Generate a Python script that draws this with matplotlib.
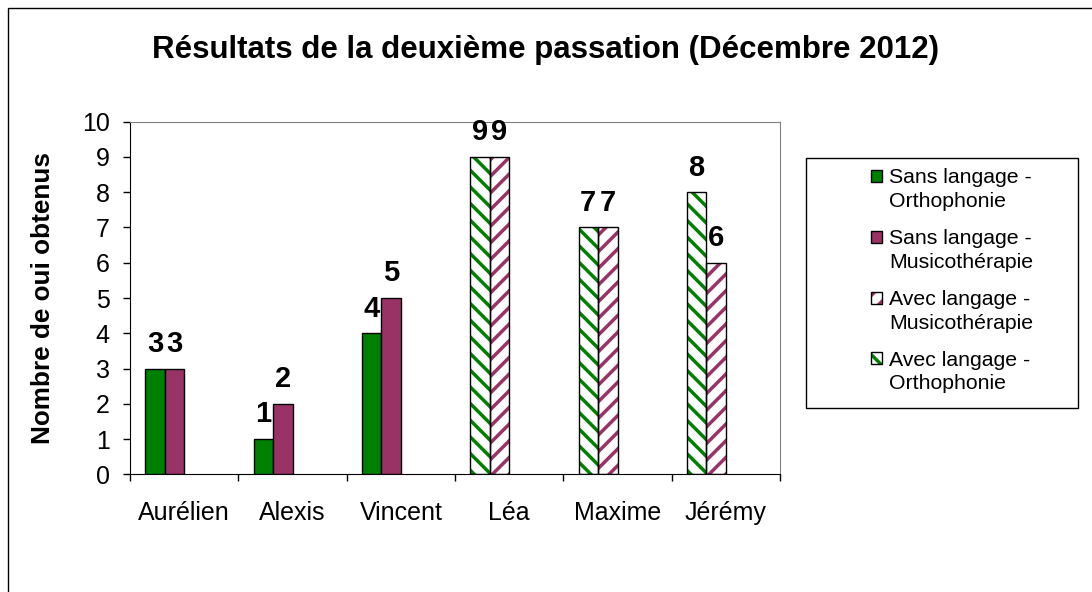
import numpy as np
import matplotlib
matplotlib.use("Agg")
import matplotlib.pyplot as plt
from matplotlib.patches import Rectangle, Patch
from matplotlib.legend_handler import HandlerBase

names = ["Aurélien", "Alexis", "Vincent", "Léa", "Maxime", "Jérémy"]
sans_ortho = [3, 1, 4, None, None, None]
sans_musico = [3, 2, 5, None, None, None]
avec_musico = [None, None, None, 9, 7, 6]
avec_ortho = [None, None, None, 9, 7, 8]

GREEN = "#008000"
PURPLE = "#993366"
W = 0.18

plt.rcParams["font.family"] = ["Liberation Sans", "DejaVu Sans"]
plt.rcParams["hatch.linewidth"] = 2.5


def split(values, offset):
    x = np.arange(len(values)) + 0.5 + offset
    keep = [v is not None for v in values]
    return x[keep], np.array([v for v in values if v is not None], dtype=float)


def draw_series(ax, values, offset, color, hatch=None):
    x, h = split(values, offset)
    if hatch:
        ax.bar(x, h, W, facecolor="white", edgecolor=color, hatch=hatch, linewidth=0, zorder=2)
        ax.bar(x, h, W, fill=False, edgecolor="black", linewidth=1, zorder=3)
    else:
        ax.bar(x, h, W, facecolor=color, edgecolor="black", linewidth=1, zorder=3)
    for xi, hi in zip(x, h):
        ax.annotate(f"{hi:g}", (xi, hi), xytext=(0, 12), textcoords="offset points",
                    ha="center", va="baseline", fontsize=21, fontweight="bold",
                    annotation_clip=False, zorder=5)


class KeyHandler(HandlerBase):
    # square key aligned with the first line of a two line label
    def __init__(self, color, hatch=None):
        super().__init__()
        self.color = color
        self.hatch = hatch

    def create_artists(self, legend, orig_handle, xdescent, ydescent, width, height, fontsize, trans):
        s = 8.6
        x0 = -xdescent + (width - s) / 2
        y0 = -ydescent + 0.63 * fontsize + 0.36 * fontsize - s / 2
        if self.hatch:
            fill = Rectangle((x0, y0), s, s, facecolor="white", edgecolor=self.color,
                             hatch=self.hatch, linewidth=0, transform=trans)
        else:
            fill = Rectangle((x0, y0), s, s, facecolor=self.color, linewidth=0, transform=trans)
        edge = Rectangle((x0, y0), s, s, fill=False, edgecolor="black", linewidth=1, transform=trans)
        return [fill, edge]


fig = plt.figure(figsize=(10.92, 5.92), dpi=100)
ax = fig.add_axes([130 / 1092, 1 - 474.3 / 592, 650 / 1092, 352.6 / 592])

draw_series(ax, sans_ortho, -1.5 * W, GREEN)
draw_series(ax, sans_musico, -0.5 * W, PURPLE)
draw_series(ax, avec_ortho, -1.5 * W, GREEN, "\\\\")
draw_series(ax, avec_musico, -0.5 * W, PURPLE, "//")

ax.set_xlim(0, len(names))
ax.set_ylim(0, 10)
ax.set_yticks(range(0, 11))
ax.set_xticks(range(0, len(names) + 1))
ax.set_xticklabels([])
ax.set_xticks(np.arange(len(names)) + 0.5, minor=True)
ax.set_xticklabels(names, minor=True)
ax.tick_params(axis="both", which="major", direction="out", length=5, width=1, labelsize=18)
ax.tick_params(axis="y", pad=9.5)
ax.tick_params(axis="x", which="minor", length=0, pad=19, labelsize=18)
for side in ["top", "right"]:
    ax.spines[side].set_color("#808080")
for side in ["left", "bottom"]:
    ax.spines[side].set_color("black")

fig.text(545 / 1092, 1 - 58 / 592, "Résultats de la deuxième passation (Décembre 2012)",
         ha="center", va="baseline", fontsize=22.5, fontweight="bold")
fig.text(43 / 1092, 1 - 298 / 592, "Nombre de oui obtenus", rotation=90,
         ha="center", va="center", fontsize=18.8, fontweight="bold")

keys = [
    ("Sans langage -\nOrthophonie", GREEN, None),
    ("Sans langage -\nMusicothérapie", PURPLE, None),
    ("Avec langage -\nMusicothérapie", PURPLE, "//"),
    ("Avec langage -\nOrthophonie", GREEN, "\\\\"),
]
handles = [Patch() for _ in keys]
handler_map = {h: KeyHandler(c, ht) for h, (_, c, ht) in zip(handles, keys)}
leg = fig.legend(handles, [k[0] for k in keys], handler_map=handler_map,
                 loc="upper left", bbox_to_anchor=(868 / 1092, 1 - 168 / 592),
                 bbox_transform=fig.transFigure, frameon=False, fontsize=15.3,
                 borderpad=0, borderaxespad=0, handlelength=0.8, handletextpad=0.2,
                 labelspacing=0.85)
for t in leg.get_texts():
    t.set_linespacing(1.32)
fig.add_artist(Rectangle((806 / 1092, 1 - 408 / 592), 272 / 1092, 250.3 / 592,
                         transform=fig.transFigure, fill=False, edgecolor="black", linewidth=1))
fig.add_artist(Rectangle((8 / 1092, -0.1), 2, 1.1 - 8 / 592,
                         transform=fig.transFigure, fill=False, edgecolor="black", linewidth=1))

fig.savefig("out.png", dpi=100)
